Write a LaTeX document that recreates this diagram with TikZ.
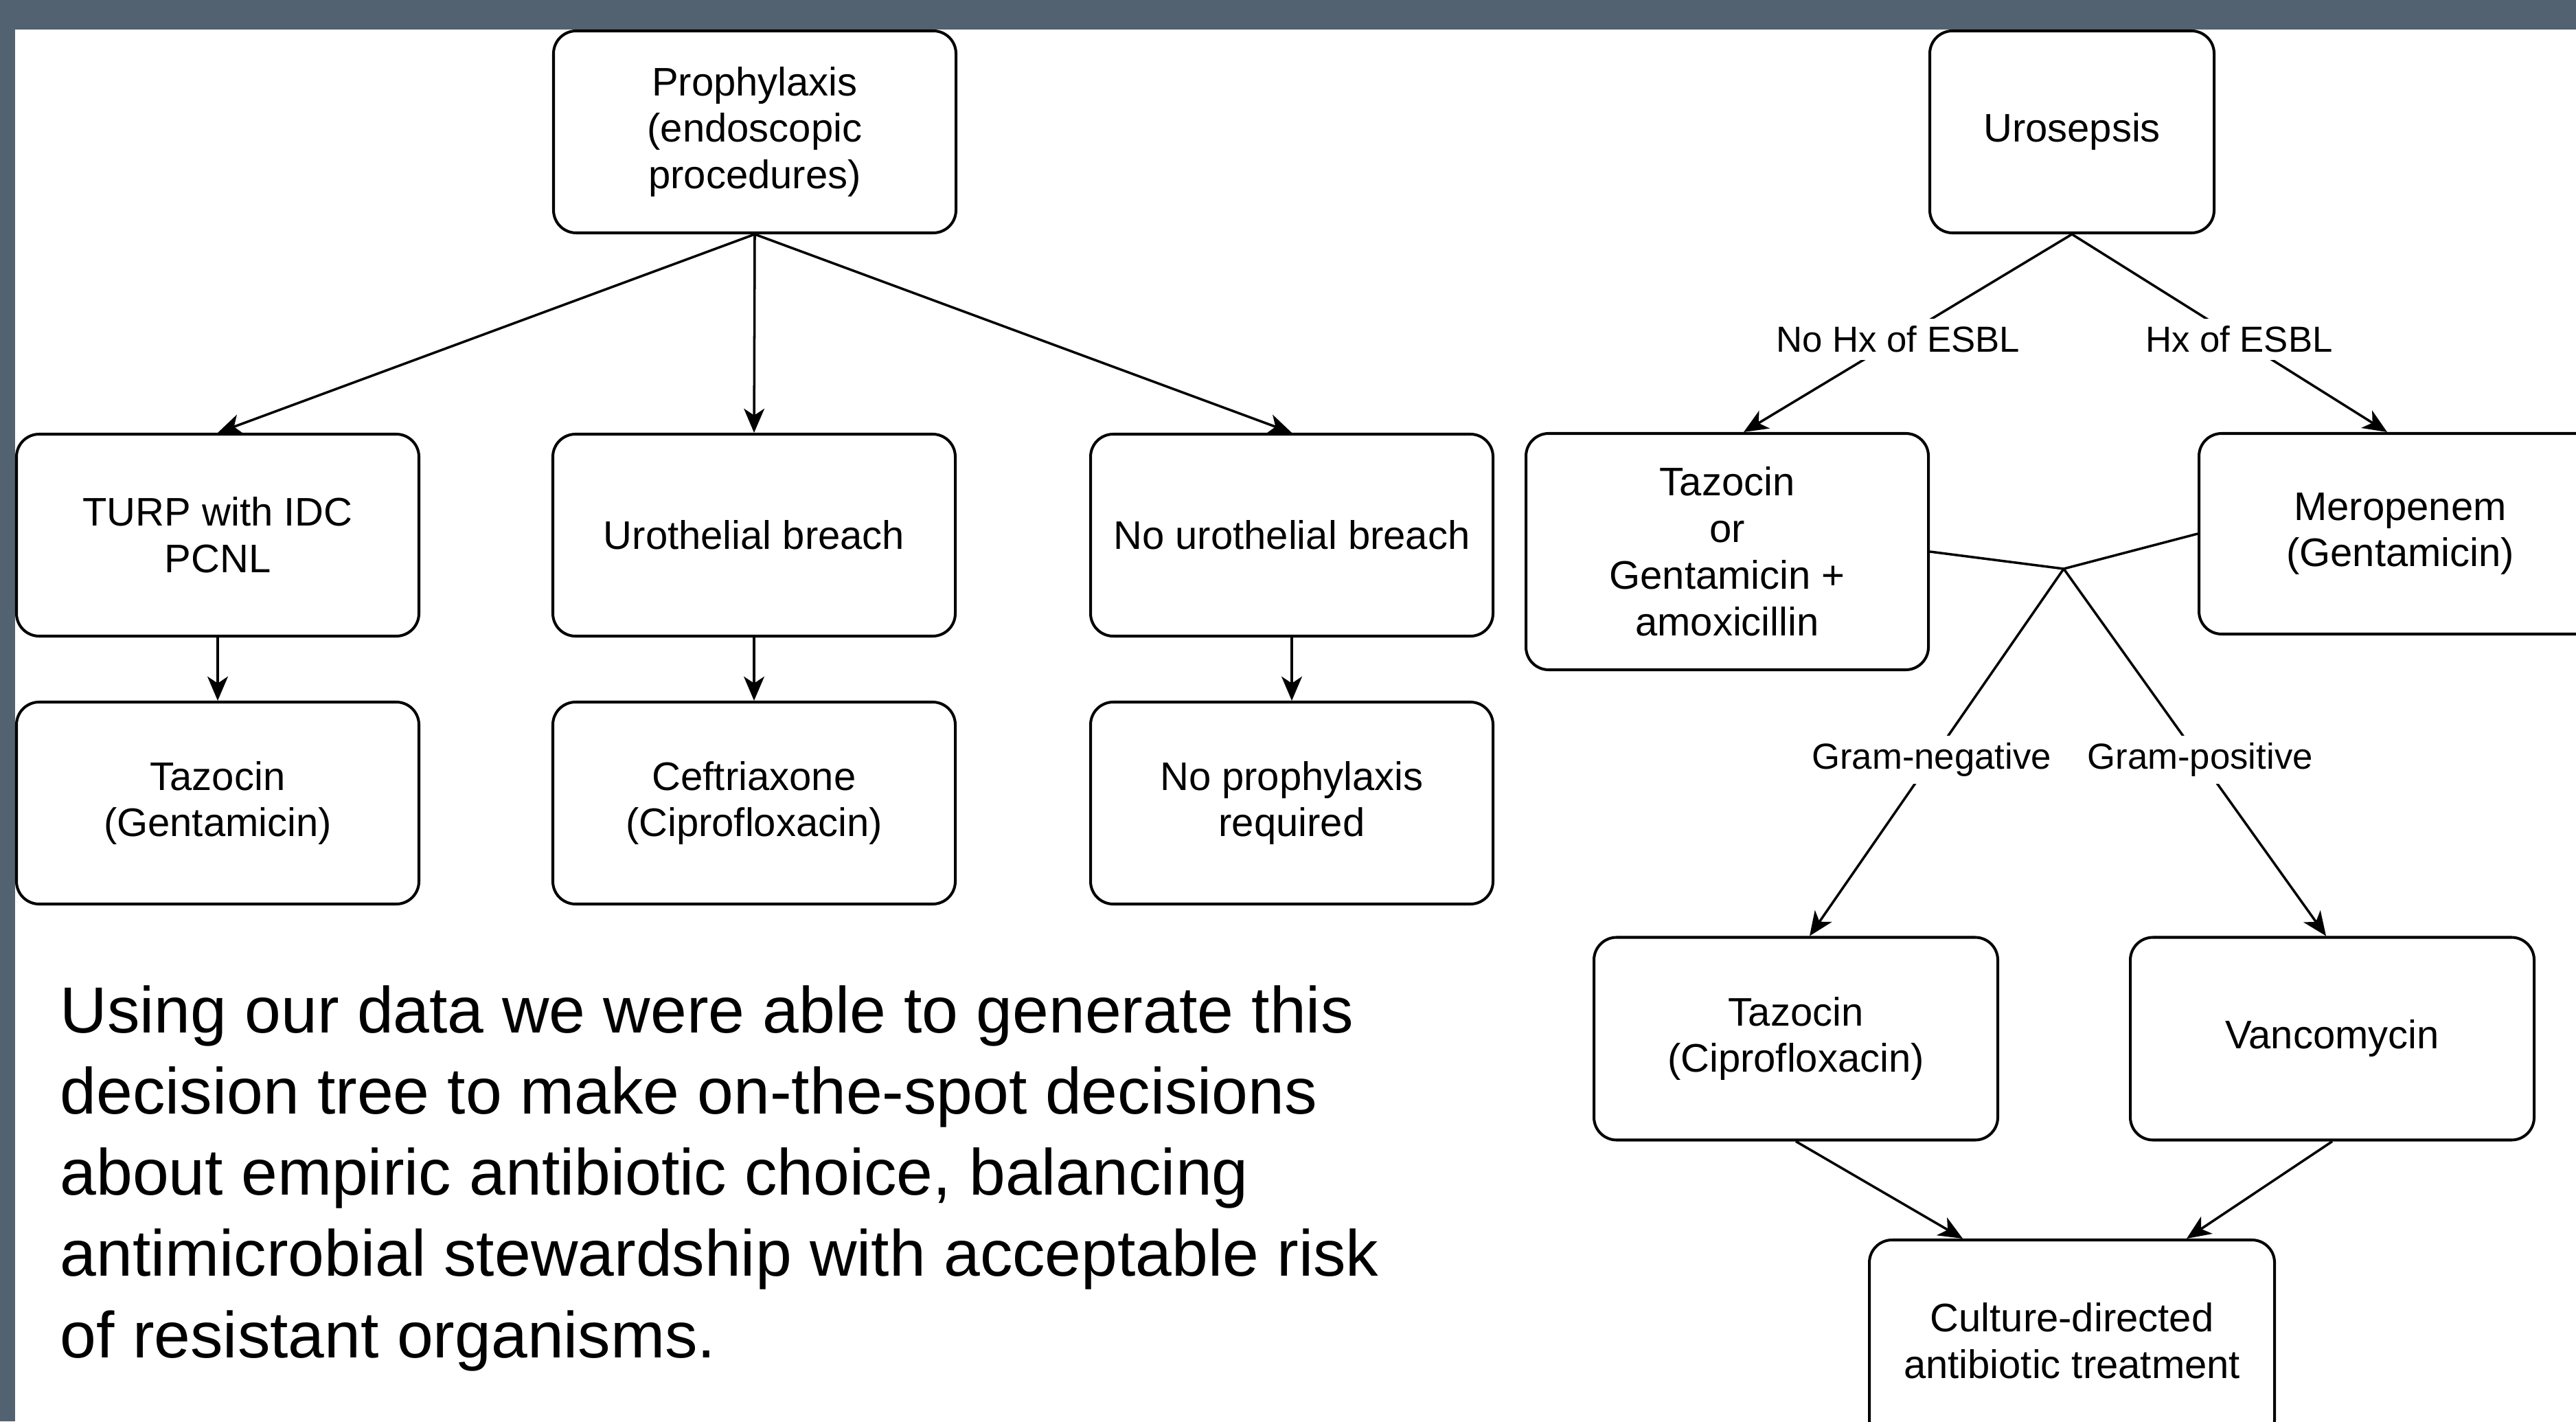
\documentclass[tikz,border=0pt]{standalone}
\usepackage{fontspec}
\setmainfont{Liberation Sans}
\usetikzlibrary{arrows.meta}
\definecolor{slate}{RGB}{83,98,112}

\begin{document}
\begin{tikzpicture}[>={Stealth[length=10pt,width=8.5pt,inset=2.8pt]},
    box/.style={draw,line width=1.15pt,rounded corners=0.33cm,align=center,minimum width=5.86cm,minimum height=2.94cm,font=\fontsize{16.5}{19.3}\selectfont},
    lbl/.style={fill=white,inner sep=3pt,font=\fontsize{15}{18}\selectfont},
    conn/.style={->,line width=1pt}]
    \useasboundingbox (0,0) rectangle (37.51,20.69);
    \fill[slate] (0,0) rectangle (37.51,20.69);
    \fill[white] (0.22,0) rectangle (37.51,20.26);
    \clip (0,0) rectangle (37.51,20.69);

    \node[box] (proph) at (10.99,18.77) {Prophylaxis\\(endoscopic\\procedures)};
    \node[box] (turp) at (3.17,12.90) {TURP with IDC\\PCNL};
    \node[box] (breach) at (10.98,12.90) {Urothelial breach};
    \node[box] (nobreach) at (18.81,12.90) {No urothelial breach};
    \node[box] (tazgent) at (3.17,9.00) {Tazocin\\(Gentamicin)};
    \node[box] (ceft) at (10.98,9.00) {Ceftriaxone\\(Ciprofloxacin)};
    \node[box] (noproph) at (18.81,9.00) {No prophylaxis\\required};

    \draw[conn] (proph.south) -- (turp.north);
    \draw[conn] (proph.south) -- (breach.north);
    \draw[conn] (proph.south) -- (nobreach.north);
    \draw[conn] (turp.south) -- (tazgent.north);
    \draw[conn] (breach.south) -- (ceft.north);
    \draw[conn] (nobreach.south) -- (noproph.north);

    \node[box,minimum width=4.14cm] (uro) at (30.17,18.77) {Urosepsis};
    \node[box,minimum height=3.44cm] (tazor) at (25.15,12.66) {Tazocin\\or\\Gentamicin +\\amoxicillin};
    \node[box,minimum height=2.92cm] (mero) at (34.95,12.92) {Meropenem\\(Gentamicin)};
    \node[box,minimum width=5.88cm,minimum height=2.95cm] (tazcip) at (26.15,5.57) {Tazocin\\(Ciprofloxacin)};
    \node[box,minimum width=5.88cm,minimum height=2.95cm] (vanc) at (33.96,5.57) {Vancomycin};
    \node[box,minimum width=5.9cm] (culture) at (30.17,1.17) {Culture-directed\\antibiotic treatment};
    \coordinate (join) at (30.05,12.41);

    \draw[conn] (uro.south) -- node[lbl,pos=0.53] {No Hx of ESBL} ([xshift=0.24cm]tazor.north);
    \draw[conn] (uro.south) -- node[lbl,pos=0.53] {Hx of ESBL} ([xshift=-0.19cm]mero.north);
    \draw[line width=1pt] (tazor.east) -- (join) -- (mero.west);
    \draw[conn] (join) -- node[lbl,pos=0.52] {Gram-negative} ([xshift=0.2cm]tazcip.north);
    \draw[conn] (join) -- node[lbl,pos=0.52] {Gram-positive} ([xshift=-0.09cm]vanc.north);
    \draw[conn] (tazcip.south) -- ([xshift=-1.59cm]culture.north);
    \draw[conn] (vanc.south) -- ([xshift=1.67cm]culture.north);

    \node[anchor=base west,align=left,inner sep=0pt,font=\fontsize{27}{33.6}\selectfont] (blurb) at (0.87,0.93) {Using our data we were able to generate this\\decision tree to make on-the-spot decisions\\about empiric antibiotic choice, balancing\\antimicrobial stewardship with acceptable risk\\of resistant organisms.};
\end{tikzpicture}
\end{document}
